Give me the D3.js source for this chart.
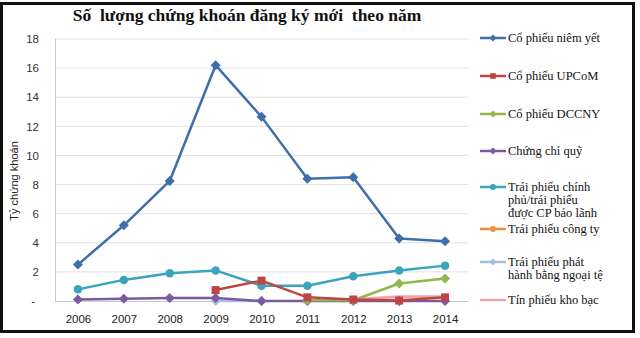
<!DOCTYPE html>
<html><head><meta charset="utf-8">
<script src="https://cdn.jsdelivr.net/npm/d3@7"></script>
<style>body{margin:0;background:#fff}svg{display:block}</style>
</head><body>
<script>
const years = ["2006","2007","2008","2009","2010","2011","2012","2013","2014"];
const seriesNames = ["Cổ phiếu niêm yết","Cổ phiếu UPCoM","Cổ phiếu DCCNY","Chứng chỉ quỹ","Trái phiếu chính phủ/trái phiếu được CP bảo lãnh","Trái phiếu công ty","Trái phiếu phát hành bằng ngoại tệ","Tín phiếu kho bạc"];
const coPhieuNiemYet = [2.5,5.2,8.25,16.2,12.65,8.4,8.5,4.3,4.1];
const coPhieuUpcom = [null,null,null,0.75,1.4,0.25,0.1,0.03,0.25];
const coPhieuDccny = [null,null,null,null,null,0.05,0.05,1.2,1.55];
const chungChiQuy = [0.1,0.15,0.2,0.2,0,0,0,0,0];
const traiPhieuChinhPhu = [0.8,1.45,1.9,2.1,1.05,1.05,1.7,2.1,2.43];
const traiPhieuCongTy = [null,null,null,null,null,null,null,null,null];
const traiPhieuNgoaiTe = [null,null,null,0,0,null,null,null,null];
const tinPhieuKhoBac = [null,null,null,null,null,null,0.1,0.3,0.3];
const yTicks = [0,2,4,6,8,10,12,14,16,18];

const W=640,H=338;
const svg=d3.select("body").append("svg").attr("width",W).attr("height",H);
svg.append("rect").attr("x",1.5).attr("y",3.5).attr("width",632).attr("height",328)
  .attr("fill","#fff").attr("stroke","#111").attr("stroke-width",3);

const x=d3.scalePoint().domain(years).range([55,468]).padding(0.5);
const y=d3.scaleLinear().domain([0,18]).range([301,39]);

// grid
const grid=svg.append("g");
grid.selectAll("line").data(yTicks.filter(d=>d>0)).join("line")
  .attr("x1",55).attr("x2",468).attr("y1",d=>y(d)).attr("y2",d=>y(d))
  .attr("stroke","#e2e2e2").attr("stroke-width",1);
svg.append("line").attr("x1",55.5).attr("x2",55.5).attr("y1",39).attr("y2",301).attr("stroke","#c8c8c8");
svg.append("line").attr("x1",55).attr("x2",468).attr("y1",301.5).attr("y2",301.5).attr("stroke","#c8c8c8");

// y axis
const yAxis=d3.axisLeft(y).tickValues(yTicks).tickSize(0).tickPadding(0)
  .tickFormat(d=>d===0?"-":String(d));
const ga=svg.append("g").attr("transform","translate(39,0)").call(yAxis);
ga.select(".domain").remove();
ga.selectAll("text").attr("font-family","Liberation Sans, Arial, sans-serif").attr("font-size",11.5).attr("fill","#333")
  .attr("dx",d=>d===0?-4:0);

// x axis
const xAxis=d3.axisBottom(x).tickSize(0).tickPadding(0);
const gx=svg.append("g").attr("transform","translate(0,315)").call(xAxis);
gx.select(".domain").remove();
gx.selectAll("text").attr("font-family","Liberation Sans, Arial, sans-serif").attr("font-size",11.5).attr("fill","#222");

svg.append("text").attr("transform","translate(18,181) rotate(-90)").attr("text-anchor","middle")
  .attr("font-family","Liberation Sans, Arial, sans-serif").attr("font-size",11).attr("fill","#222").text("Tỷ chứng khoán");

svg.append("text").attr("x",247).attr("y",21).attr("text-anchor","middle")
  .attr("font-family","Liberation Serif, Times New Roman, serif").attr("font-weight","bold").attr("font-size",17.5)
  .attr("fill","#111").style("white-space","pre").text("Số  lượng chứng khoán đăng ký mới  theo năm");

const series=[
 {name:seriesNames[0],values:coPhieuNiemYet,color:"#3f6eab",marker:"diamond"},
 {name:seriesNames[1],values:coPhieuUpcom,color:"#bf4545",marker:"square"},
 {name:seriesNames[2],values:coPhieuDccny,color:"#95b54f",marker:"diamond"},
 {name:seriesNames[3],values:chungChiQuy,color:"#7a5aa0",marker:"diamond"},
 {name:seriesNames[4],values:traiPhieuChinhPhu,color:"#3aa4bd",marker:"circle"},
 {name:seriesNames[5],values:traiPhieuCongTy,color:"#ef8f44",marker:"circle"},
 {name:seriesNames[6],values:traiPhieuNgoaiTe,color:"#a8bfe0",marker:"diamond"},
 {name:seriesNames[7],values:tinPhieuKhoBac,color:"#e8a8a8",marker:null}
];
const drawOrder=[7,6,5,3,2,4,1,0];
const line=d3.line().defined(d=>d.v!=null).x(d=>x(d.k)).y(d=>y(d.v));
function marker(g,type,cx,cy,color,s){
  if(type==="diamond"){g.append("path").attr("d",`M${cx},${cy-s}L${cx+s},${cy}L${cx},${cy+s}L${cx-s},${cy}Z`).attr("fill",color);}
  else if(type==="square"){g.append("rect").attr("x",cx-s*0.8).attr("y",cy-s*0.8).attr("width",s*1.6).attr("height",s*1.6).attr("fill",color);}
  else if(type==="circle"){g.append("circle").attr("cx",cx).attr("cy",cy).attr("r",s*0.85).attr("fill",color);}
}
drawOrder.forEach(i=>{
  const s=series[i];
  const pts=years.map((k,j)=>({k,v:s.values[j]}));
  const g=svg.append("g");
  g.append("path").datum(pts).attr("d",line).attr("fill","none").attr("stroke",s.color)
    .attr("stroke-width",i===7?3:2.5).attr("stroke-linejoin","round");
  if(s.marker) pts.filter(d=>d.v!=null).forEach(d=>marker(g,s.marker,x(d.k),y(d.v),s.color,5));
});

// legend
const legY=[38,76,114,151,187,229,262,300];
const legLines=[[seriesNames[0]],[seriesNames[1]],[seriesNames[2]],[seriesNames[3]],
  ["Trái phiếu chính","phủ/trái phiếu","được CP bảo lãnh"],[seriesNames[5]],["Trái phiếu phát","hành bằng ngoại tệ"],[seriesNames[7]]];
series.forEach((s,i)=>{
  const g=svg.append("g");
  g.append("line").attr("x1",480).attr("x2",506).attr("y1",legY[i]).attr("y2",legY[i]).attr("stroke",s.color).attr("stroke-width",2.5);
  if(s.marker) marker(g,s.marker,493,legY[i],s.color,3.5);
  const t=g.append("text").attr("x",508).attr("y",legY[i]+4).attr("font-family","Liberation Serif, Times New Roman, serif")
    .attr("font-size",12.5).attr("fill","#111");
  legLines[i].forEach((l,j)=>t.append("tspan").attr("x",508).attr("dy",j===0?0:13).text(l));
});
</script>
</body></html>
